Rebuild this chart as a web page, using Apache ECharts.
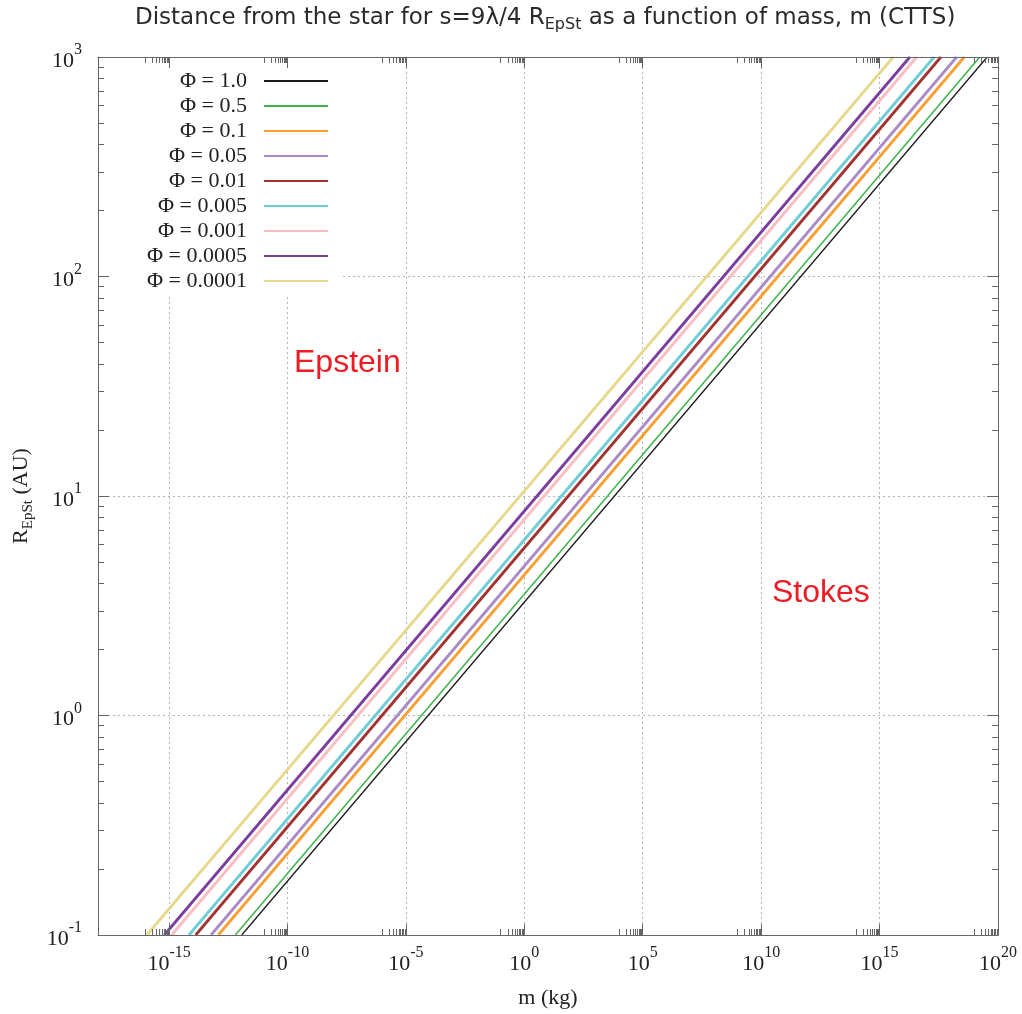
<!DOCTYPE html>
<html>
<head>
<meta charset="utf-8">
<script src="https://cdn.jsdelivr.net/npm/echarts@6/dist/echarts.min.js"></script>
<style>html,body{margin:0;padding:0;background:#fff;}#chart{width:1022px;height:1014px;}</style>
</head>
<body>
<div id="chart"></div>
<script>
// ---- data ----
const phiLabels = ['1.0', '0.5', '0.1', '0.05', '0.01', '0.005', '0.001', '0.0005', '0.0001'];
const rEnds = [0.1, 1000];                       // R_EpSt (AU) at the two ends of each line
const mAtRmin = [1.17e-12, 6.3e-13, 1.2e-13, 5.9e-14, 1.33e-14, 6.9e-15, 1.29e-15, 6.3e-16, 1.15e-16]; // m (kg) at R = 0.1
const mAtRmax = [3.5e19, 1.7e19, 3.8e18, 1.8e18, 3.9e17, 2.0e17, 3.7e16, 1.9e16, 3.8e15];           // m (kg) at R = 1000
const xTickExps = [-15, -10, -5, 0, 5, 10, 15, 20];
const yTickExps = [-1, 0, 1, 2, 3];
const xRange = [1e-18, 1e20];
const yRange = [0.1, 1000];

// ---- styles ----
const colors = ['#1c1c1c', '#3cb449', '#f7a033', '#a98bc8', '#a23331', '#6fcdd8', '#f8bec2', '#7b3da0', '#e7d98c'];
const widths = [1.3, 1.5, 2.8, 2.8, 2.8, 2.8, 2.8, 2.8, 2.8];
const SERIF = "'Liberation Serif', 'DejaVu Serif', serif";
const SANS = "'DejaVu Sans', Verdana, sans-serif";
const axisColor = '#666';
const textColor = '#222';

const xMajors = xTickExps.map(e => Math.pow(10, e));
const yMajors = yTickExps.map(e => Math.pow(10, e));
const xMinors = [];
xTickExps.forEach(e => { for (let k = 1; k <= 9; k++) xMinors.push(k * Math.pow(10, e - 1)); });
const yMinors = [];
yTickExps.slice(0, -1).forEach(e => { for (let k = 2; k <= 9; k++) yMinors.push(k * Math.pow(10, e)); });

function powLabel(v) {
  const e = Math.round(Math.log10(v));
  return '{b|10}{s|' + e + '}';
}
const powRich = {
  b: { fontFamily: SERIF, fontSize: 22, lineHeight: 30, verticalAlign: 'bottom', color: textColor },
  s: { fontFamily: SERIF, fontSize: 16, lineHeight: 16, verticalAlign: 'top', color: textColor }
};

function baseAxis(pos, range) {
  return {
    type: 'log', logBase: 10, position: pos, min: range[0], max: range[1],
    gridIndex: 0,
    axisLine: { show: false, onZero: false },
    axisTick: { show: false },
    axisLabel: { show: false },
    splitLine: { show: false },
    minorTick: { show: false },
    minorSplitLine: { show: false }
  };
}
function gridAxis(pos, range, majors) {
  const a = baseAxis(pos, range);
  a.z = 0;
  a.axisTick = { show: false, customValues: majors };
  a.splitLine = { show: true, lineStyle: { color: '#b5b5b5', width: 1, type: [2, 3] } };
  return a;
}
function mainAxis(pos, range, majors, withLabels) {
  const a = baseAxis(pos, range);
  a.z = 10;
  a.axisLine = { show: true, onZero: false, lineStyle: { color: axisColor, width: 1 } };
  a.axisTick = { show: true, inside: true, length: 11, customValues: majors, lineStyle: { color: axisColor, width: 1 } };
  if (withLabels) {
    a.axisLabel = { show: true, customValues: majors, formatter: powLabel, rich: powRich };
  }
  return a;
}
function minorAxis(pos, range, minors) {
  const a = baseAxis(pos, range);
  a.z = 10;
  a.axisTick = { show: true, inside: true, length: 6, customValues: minors, lineStyle: { color: axisColor, width: 1 } };
  return a;
}

const xAxes = [
  gridAxis('bottom', xRange, xMajors),
  Object.assign(mainAxis('bottom', xRange, xMajors, true), {
    name: 'm (kg)', nameLocation: 'middle', nameGap: 52,
    nameTextStyle: { fontFamily: SERIF, fontSize: 22, color: textColor }
  }),
  minorAxis('bottom', xRange, xMinors),
  mainAxis('top', xRange, xMajors, false),
  minorAxis('top', xRange, xMinors)
];
xAxes[1].axisLabel.margin = 10;

const yAxes = [
  gridAxis('left', yRange, yMajors),
  Object.assign(mainAxis('left', yRange, yMajors, true), {
    name: '{r|R}{sub|EpSt}{r| (AU)}', nameLocation: 'middle', nameGap: 60, nameRotate: 90,
    nameTextStyle: {
      rich: {
        r: { fontFamily: SERIF, fontSize: 22, lineHeight: 26, verticalAlign: 'top', color: textColor },
        sub: { fontFamily: SERIF, fontSize: 15, lineHeight: 14, verticalAlign: 'bottom', color: textColor }
      }
    }
  }),
  minorAxis('left', yRange, yMinors),
  mainAxis('right', yRange, yMajors, false),
  minorAxis('right', yRange, yMinors)
];
yAxes[1].axisLabel.margin = 16;

const series = phiLabels.map((p, i) => ({
  name: 'Φ = ' + p,
  type: 'line',
  xAxisIndex: 1,
  yAxisIndex: 1,
  symbol: 'none',
  showSymbol: false,
  silent: true,
  z: 3,
  lineStyle: { color: colors[i], width: widths[i] },
  itemStyle: { color: colors[i] },
  data: [[mAtRmin[i], rEnds[0]], [mAtRmax[i], rEnds[1]]]
}));

const option = {
  animation: false,
  backgroundColor: '#fff',
  title: {
    text: '{a|Distance from the star for s=9λ/4 R}{sub|EpSt}{a| as a function of mass, m (CTTS)}',
    left: 135, top: 7, padding: 0,
    textStyle: {
      fontWeight: 'normal',
      rich: {
        a: { fontFamily: SANS, fontSize: 23, fontWeight: 'normal', lineHeight: 26, verticalAlign: 'top', color: '#2a2a2a' },
        sub: { fontFamily: SANS, fontSize: 16, fontWeight: 'normal', lineHeight: 14, verticalAlign: 'bottom', color: '#2a2a2a' }
      }
    }
  },
  grid: { left: 98, right: 24, top: 57, bottom: 79, containLabel: false, outerBoundsMode: 'none' },
  legend: {
    orient: 'vertical',
    align: 'right',
    right: 682, top: 58,
    padding: [12, 11, 2, 46],
    backgroundColor: '#fff',
    itemWidth: 64, itemHeight: 2, itemGap: 3,
    itemStyle: { opacity: 0 },
    selectedMode: false,
    z: 5,
    textStyle: { fontFamily: SERIF, fontSize: 22, lineHeight: 20, color: textColor, padding: [0, 12, 0, 0] },
    data: series.map(s => s.name)
  },
  xAxis: xAxes,
  yAxis: yAxes,
  series: series,
  graphic: [
    { type: 'text', x: 294, y: 363, z: 20,
      style: { text: 'Epstein', fontFamily: "'Liberation Sans', Arial, sans-serif", fontSize: 32, fill: '#ec1c24', verticalAlign: 'middle' } },
    { type: 'text', x: 772, y: 593, z: 20,
      style: { text: 'Stokes', fontFamily: "'Liberation Sans', Arial, sans-serif", fontSize: 32, fill: '#ec1c24', verticalAlign: 'middle' } }
  ]
};

const chart = echarts.init(document.getElementById('chart'), null, { renderer: 'canvas' });
chart.setOption(option);
</script>
</body>
</html>
